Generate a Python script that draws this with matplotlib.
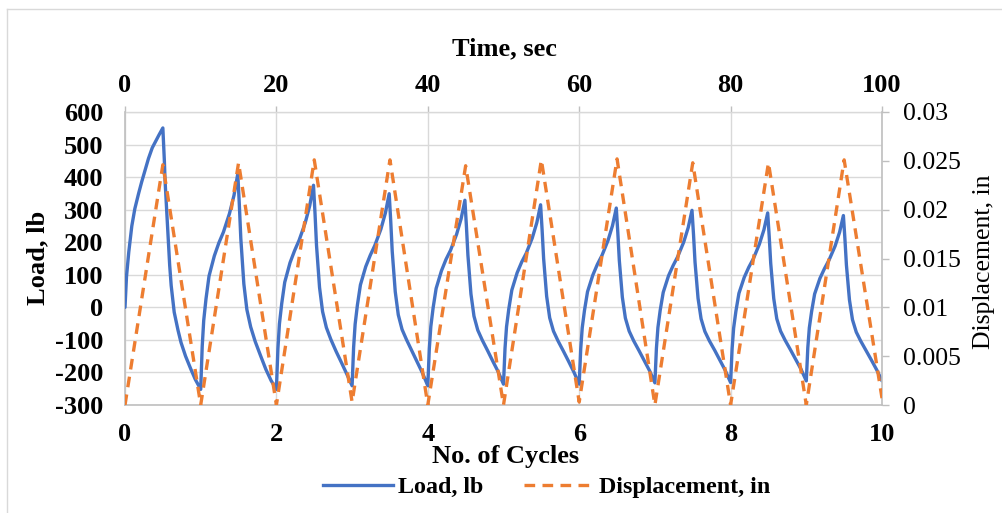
import matplotlib
matplotlib.use("Agg")
import matplotlib.pyplot as plt
from matplotlib.lines import Line2D
import numpy as np

# ---------------- data ----------------
# first cycle (0 -> 1)
time_c0 = [0, 0.02, 0.05, 0.09, 0.13, 0.18, 0.22, 0.27, 0.31, 0.36, 0.40, 0.45, 0.50,
           0.52, 0.53, 0.55, 0.57, 0.59, 0.61, 0.65, 0.70, 0.74, 0.80, 0.87, 0.93]
load_c0 = [0, 95, 170, 250, 303, 350, 385, 425, 457, 490, 508, 530, 551,
           450, 385, 300, 210, 130, 67, -15, -70, -108, -150, -190, -222]

# phase positions within later cycles (fraction of a cycle)
cycle_offsets = [0, 0.02, 0.04, 0.07, 0.11, 0.18, 0.24, 0.30, 0.38, 0.44, 0.49,
                 0.51, 0.53, 0.57, 0.61, 0.66, 0.72, 0.79, 0.86, 0.93]
load_c1 = [-252, -120, -40, 26, 96, 158, 198, 231, 288, 344, 410,
           317, 211, 72, -7, -60, -105, -148, -190, -225]
load_c2 = [-252, -127, -51, 11, 77, 137, 174, 206, 259, 312, 375,
           289, 190, 61, -13, -62, -99, -136, -170, -205]
load_c3 = [-241, -123, -52, 7, 69, 125, 160, 190, 240, 290, 349,
           266, 172, 48, -23, -68, -100, -134, -168, -202]
load_c4 = [-241, -127, -59, -2, 58, 112, 147, 175, 224, 272, 329,
           250, 160, 41, -27, -70, -101, -133, -166, -198]
load_c5 = [-236, -126, -60, -5, 53, 106, 139, 166, 213, 260, 315,
           238, 150, 34, -32, -73, -103, -134, -166, -199]
load_c6 = [-236, -128, -63, -9, 48, 99, 132, 159, 205, 251, 305,
           230, 144, 31, -33, -73, -103, -133, -164, -195]
load_c7 = [-232, -126, -62, -9, 46, 97, 128, 155, 200, 245, 298,
           224, 139, 28, -35, -74, -103, -132, -163, -194]
load_c8 = [-231, -127, -64, -12, 43, 92, 123, 149, 194, 238, 290,
           218, 135, 27, -35, -73, -101, -130, -160, -190]
load_c9 = [-226, -124, -63, -13, 41, 89, 119, 145, 188, 231, 282,
           211, 130, 23, -38, -76, -104, -133, -162, -192]
load_end_cycle = 10
load_end = -226

# displacement (triangle wave vertices)
disp_cycles = [0, 0.5, 1, 1.5, 2, 2.5, 3, 3.5, 4, 4.5, 5, 5.5, 6, 6.5, 7, 7.5, 8, 8.5, 9, 9.5, 10]
disp_in = [0, 0.0246, 0, 0.0248, 0, 0.0251, 0.0003, 0.0251, 0, 0.0245, 0, 0.0251,
           0.0003, 0.0252, 0, 0.0248, 0, 0.0248, 0, 0.0251, 0.0007]

load_ticks = [-300, -200, -100, 0, 100, 200, 300, 400, 500, 600]
disp_ticks = [0, 0.005, 0.01, 0.015, 0.02, 0.025, 0.03]
disp_tick_labels = ["0", "0.005", "0.01", "0.015", "0.02", "0.025", "0.03"]
cycle_ticks = [0, 2, 4, 6, 8, 10]
time_ticks = [0, 20, 40, 60, 80, 100]

# assemble load series
later = [load_c1, load_c2, load_c3, load_c4, load_c5, load_c6, load_c7, load_c8, load_c9]
cyc = list(time_c0)
load = list(load_c0)
for k, vals in enumerate(later, start=1):
    cyc += [k + o for o in cycle_offsets]
    load += vals
cyc.append(load_end_cycle)
load.append(load_end)

# ---------------- figure ----------------
W, H = 1003, 513
fig = plt.figure(figsize=(W / 100, H / 100), dpi=100)
fig.patch.set_facecolor("white")

L, R, T, B = 125, 882, 112, 405
ax = fig.add_axes([L / W, 1 - B / H, (R - L) / W, (B - T) / H])

serif = "Liberation Serif"
blue = "#4472C4"
orange = "#ED7D31"
grid_c = "#D9D9D9"
spine_c = "#BFBFBF"
fsb = 19      # bold texts
fsr = 18.5    # regular texts
fsl = 17.3    # legend

ax.plot(cyc, load, color=blue, lw=2.4, solid_joinstyle="round", solid_capstyle="round", zorder=3)
ax.set_xlim(0, 10)
ax.set_ylim(-300, 600)
ax.set_yticks(load_ticks)
ax.set_yticklabels([str(v) for v in load_ticks], fontfamily=serif, fontweight="bold", fontsize=fsb)
ax.set_xticks(cycle_ticks)
ax.set_xticklabels([str(v) for v in cycle_ticks], fontfamily=serif, fontweight="bold", fontsize=fsb)
ax.tick_params(axis="y", length=0, pad=15.5)
ax.tick_params(axis="x", length=0, pad=13)
ax.grid(True, color=grid_c, lw=1.0, zorder=0)
ax.set_axisbelow(True)
for s in ["left", "bottom"]:
    ax.spines[s].set_color(spine_c)
    ax.spines[s].set_linewidth(1.2)
ax.spines["top"].set_visible(False)
ax.spines["right"].set_visible(False)

# secondary (time) axis on top
sec = ax.secondary_xaxis("top", functions=(lambda c: np.asarray(c) * 10, lambda t: np.asarray(t) / 10))
sec.set_xticks(time_ticks)
sec.set_xticklabels([str(v) for v in time_ticks], fontfamily=serif, fontweight="bold", fontsize=fsb)
sec.tick_params(axis="x", length=4, color=spine_c, width=1.0, pad=7)
sec.spines["top"].set_color(grid_c)
sec.spines["top"].set_linewidth(1.0)

# displacement axis
ax2 = ax.twinx()
ax2.plot(disp_cycles, disp_in, color=orange, lw=2.4, linestyle=(0, (3.2, 2.2)),
         dash_capstyle="butt", zorder=4)
ax2.set_ylim(0, 0.03)
ax2.set_xlim(0, 10)
ax2.set_yticks(disp_ticks)
ax2.set_yticklabels(disp_tick_labels, fontfamily=serif, fontsize=fsr)
ax2.tick_params(axis="y", length=5, color=spine_c, width=1.0, pad=10)
for s in ["left", "top", "bottom"]:
    ax2.spines[s].set_visible(False)
ax2.spines["right"].set_color(spine_c)
ax2.spines["right"].set_linewidth(1.2)

# axis titles
fig.text(504 / W, 1 - 49 / H, "Time, sec", ha="center", va="center",
         fontfamily=serif, fontweight="bold", fontsize=fsb)
fig.text(506 / W, 1 - 456 / H, "No. of Cycles", ha="center", va="center",
         fontfamily=serif, fontweight="bold", fontsize=fsb)
fig.text(38 / W, 1 - 258 / H, "Load, lb", ha="center", va="center", rotation=90,
         fontfamily=serif, fontweight="bold", fontsize=fsb)
fig.text(984 / W, 1 - 262 / H, "Displacement, in", ha="center", va="center", rotation=90,
         fontfamily=serif, fontsize=fsr)

# legend
handles = [Line2D([], [], color=blue, lw=2.4),
           Line2D([], [], color=orange, lw=2.4, linestyle=(0, (3.2, 2.2)))]
fig.legend(handles, ["Load, lb", "Displacement, in"], loc="center left",
           bbox_to_anchor=(323 / W, 1 - 487 / H), ncol=2, frameon=False, borderpad=0,
           borderaxespad=0,
           prop={"family": serif, "weight": "bold", "size": fsl},
           handlelength=2.9, handletextpad=0.22, columnspacing=1.7)

# outer chart border (left and top visible)
fig.add_artist(Line2D([7 / W, 7 / W], [0, 1 - 9 / H], color=grid_c, lw=1.0, transform=fig.transFigure))
fig.add_artist(Line2D([7 / W, 1], [1 - 9 / H, 1 - 9 / H], color=grid_c, lw=1.0, transform=fig.transFigure))

fig.savefig("out.png", dpi=100, facecolor="white")
